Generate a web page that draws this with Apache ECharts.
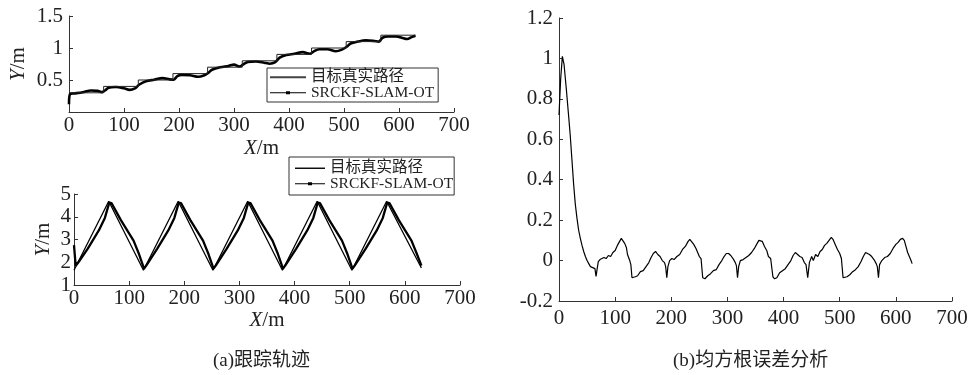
<!DOCTYPE html>
<html><head><meta charset="utf-8">
<script src="https://cdn.jsdelivr.net/npm/echarts@6/dist/echarts.min.js"></script>
<style>html,body{margin:0;padding:0;background:#fff}#c{width:975px;height:375px}</style>
</head><body><div id="c"></div>
<script>
// ---- data ----
const legendNames = ['目标真实路径', 'SRCKF-SLAM-OT'];
const captions = ['(a)跟踪轨迹', '(b)均方根误差分析'];
const xTicks = [0, 700, 100];
const topYTicks = [0, 1.5, 0.5];
const botYTicks = [1, 5, 1];
const rmseYTicks = [-0.2, 1.2, 0.2];

const topTrueX = [0,63,63,126,126,189,189,252,252,315,315,378,378,441,441,504,504,567,567,630];
const topTrueY = [0.3,0.3,0.4,0.4,0.5,0.5,0.6,0.6,0.7,0.7,0.8,0.8,0.9,0.9,1.0,1.0,1.1,1.1,1.2,1.2];

const topEstX = [0,2,10,25,40,52,60,66,72,85,100,110,120,128,140,155,170,183,190,197,205,220,235,245,253,260,275,290,300,310,318,325,340,355,365,375,383,395,410,425,438,446,455,470,485,495,505,512,525,540,555,563,570,580,595,605,615,623,630];
const topEstY = [0.12,0.28,0.29,0.31,0.335,0.33,0.31,0.34,0.38,0.39,0.37,0.345,0.37,0.43,0.48,0.505,0.53,0.51,0.505,0.56,0.58,0.575,0.55,0.57,0.61,0.66,0.70,0.72,0.74,0.71,0.75,0.78,0.79,0.77,0.755,0.78,0.85,0.89,0.91,0.935,0.91,0.95,0.98,0.98,0.95,0.97,1.02,1.07,1.10,1.12,1.11,1.10,1.16,1.18,1.18,1.16,1.14,1.17,1.19];

const botTrueX = [0,63,126,189,252,315,378,441,504,567,630];
const botTrueY = [1.65,4.68,1.65,4.68,1.65,4.68,1.65,4.68,1.65,4.68,1.75];

const botEstX = [0,3,8,25,45,56,64,68,85,108,118,127,131,151,171,182,190,194,211,234,244,253,257,277,297,308,316,320,337,360,370,379,383,403,423,434,442,446,463,486,496,505,509,529,549,560,568,572,589,612,622,630];
const botEstY = [2.75,1.85,2.0,2.6,3.4,3.95,4.62,4.6,3.85,2.95,2.35,1.72,1.85,2.6,3.4,3.95,4.62,4.6,3.85,2.95,2.35,1.72,1.85,2.6,3.4,3.95,4.62,4.6,3.85,2.95,2.35,1.72,1.85,2.6,3.4,3.95,4.62,4.6,3.85,2.95,2.35,1.72,1.85,2.6,3.4,3.95,4.62,4.6,3.85,2.95,2.35,1.85];

const rmseX = [0,3,6,9,13,17,20,23,26,29,32,35,38,41,44,47,50,53,56,58,60,62,64,66,68,70,73,76,80,84,88,92,96,100,104,108,111,114,117,120,122,124,126,128,130,132,136,140,145,150,155,160,164,168,172,176,180,184,188,190,192,194,197,201,205,210,215,220,225,230,233,236,240,244,247,250,253,256,260,265,270,275,280,285,290,294,298,302,306,310,314,316,318,320,323,328,333,338,343,348,352,356,359,362,366,370,373,377,381,384,388,393,398,403,408,413,417,421,425,429,433,437,440,443,446,450,453,457,461,465,469,473,477,481,485,488,492,496,500,503,506,509,513,518,523,528,533,538,542,546,549,553,557,561,565,567,569,571,575,580,585,590,595,600,604,608,612,615,618,621,624,627,629];
const rmseY = [0.72,0.9,1.01,0.97,0.85,0.72,0.62,0.5,0.38,0.28,0.21,0.15,0.11,0.075,0.045,0.02,0.0,-0.015,-0.03,-0.025,-0.035,-0.03,-0.04,-0.078,-0.04,-0.005,0.005,0.0,0.015,0.01,0.025,0.02,0.04,0.05,0.075,0.095,0.11,0.105,0.085,0.065,0.03,0.03,0.0,-0.02,-0.085,-0.09,-0.08,-0.075,-0.055,-0.05,-0.03,-0.01,0.015,0.035,0.045,0.03,0.02,0.0,-0.01,-0.03,-0.085,-0.03,0.0,0.01,0.005,0.02,0.03,0.055,0.07,0.095,0.105,0.1,0.08,0.06,0.04,0.02,0.01,-0.085,-0.09,-0.075,-0.065,-0.05,-0.045,-0.02,0.0,0.02,0.035,0.035,0.025,0.01,-0.01,-0.025,-0.085,-0.03,0.0,0.005,0.015,0.025,0.04,0.06,0.08,0.1,0.105,0.095,0.07,0.05,0.02,0.01,-0.08,-0.09,-0.085,-0.06,-0.05,-0.04,-0.02,0.0,0.025,0.04,0.03,0.02,0.015,-0.01,-0.02,-0.085,-0.01,0.02,0.0,0.03,0.02,0.045,0.055,0.075,0.085,0.1,0.115,0.105,0.08,0.055,0.035,0.01,-0.085,-0.09,-0.08,-0.07,-0.055,-0.045,-0.03,-0.005,0.02,0.04,0.04,0.03,0.02,0.005,-0.015,-0.03,-0.085,-0.02,0.0,0.015,0.02,0.035,0.06,0.08,0.09,0.105,0.11,0.1,0.07,0.04,0.02,0.0,-0.015];

// ---- helpers ----
const pairs = (xs, ys) => xs.map((x, i) => [x, ys[i]]);
const SERIF = "'Liberation Serif','Noto Sans CJK SC',serif";
const TXT = '#222';
const AX = '#333';

function xAxis(gridIndex, name, nameGap, margin) {
  return {
    type: 'value', gridIndex, min: xTicks[0], max: xTicks[1], interval: xTicks[2],
    name: name, nameLocation: 'middle', nameGap: nameGap,
    nameTextStyle: { fontFamily: SERIF, fontSize: 21, color: TXT,
      rich: { i: { fontFamily: SERIF, fontSize: 21, fontStyle: 'italic', color: TXT } } },
    axisLine: { show: true, onZero: false, lineStyle: { color: AX, width: 1 } },
    axisTick: { show: true, inside: true, length: 4, lineStyle: { color: AX } },
    axisLabel: { fontFamily: SERIF, fontSize: 21, color: TXT, margin: margin },
    splitLine: { show: false }
  };
}
function yAxis(gridIndex, t, name, nameGap, margin, showMin) {
  return {
    type: 'value', gridIndex, min: t[0], max: t[1], interval: t[2],
    name: name, nameLocation: 'middle', nameGap: nameGap, nameRotate: 90,
    nameTextStyle: { fontFamily: SERIF, fontSize: 21, color: TXT,
      rich: { i: { fontFamily: SERIF, fontSize: 21, fontStyle: 'italic', color: TXT } } },
    axisLine: { show: true, onZero: false, lineStyle: { color: AX, width: 1 } },
    axisTick: { show: true, inside: true, length: 4, lineStyle: { color: AX } },
    axisLabel: { fontFamily: SERIF, fontSize: 21, color: TXT, margin: margin, showMinLabel: showMin,
      formatter: v => String(Math.round(v * 10) / 10) },
    splitLine: { show: false }
  };
}

const lineIcon = 'path://M0,0h36v2h-36z';
const dotIcon = 'path://M0,1h36v1h-36z M16,0h4v3h-4z';
const thinIcon = 'path://M0,0h30v1.4h-30z';
const dotIcon2 = 'path://M0,1h30v1h-30z M13,0h4v3h-4z';

const option = {
  animation: false,
  backgroundColor: '#fff',
  grid: [
    { left: 69, top: 16, width: 385, height: 96 },
    { left: 74, top: 194, width: 386, height: 91 },
    { left: 559, top: 18, width: 393, height: 283 }
  ],
  xAxis: [
    xAxis(0, '{i|X}/m', 26, 3),
    xAxis(1, '{i|X}/m', 20, 3),
    xAxis(2, '', 0, 7)
  ],
  yAxis: [
    yAxis(0, topYTicks, '{i|Y}/m', 40, 6, false),
    yAxis(1, botYTicks, '{i|Y}/m', 20, 3, true),
    yAxis(2, rmseYTicks, '', 0, 6, true)
  ],
  legend: [
    { orient: 'vertical', left: 267, top: 68, itemGap: 0, padding: [1.5, 4, 1.5, 3],
      itemWidth: 36, itemHeight: 3, borderColor: '#333', borderWidth: 1,
      textStyle: { fontFamily: SERIF, fontSize: 15.5, color: TXT },
      selectedMode: false,
      data: [ { name: legendNames[0], icon: lineIcon, itemStyle: { color: '#444' } },
              { name: legendNames[1], icon: dotIcon, itemStyle: { color: '#000' } } ] },
    { orient: 'vertical', left: 289, top: 157, itemGap: 0, padding: [3.5, 1, 3.5, 6],
      itemWidth: 30, itemHeight: 3, borderColor: '#333', borderWidth: 1,
      textStyle: { fontFamily: SERIF, fontSize: 15.5, color: TXT },
      selectedMode: false,
      data: [ { name: legendNames[0], icon: thinIcon, itemStyle: { color: '#000' } },
              { name: legendNames[1], icon: dotIcon2, itemStyle: { color: '#000' } } ] }
  ],
  title: [
    { text: captions[0], left: 213, top: 352, padding: 0,
      textStyle: { fontFamily: SERIF, fontSize: 19, fontWeight: 'normal', color: TXT } },
    { text: captions[1], left: 673, top: 352, padding: 0,
      textStyle: { fontFamily: SERIF, fontSize: 19, fontWeight: 'normal', color: TXT } }
  ],
  series: [
    { name: legendNames[0], type: 'line', xAxisIndex: 0, yAxisIndex: 0, symbol: 'none',
      data: pairs(topTrueX, topTrueY), lineStyle: { color: '#222', width: 1 }, itemStyle: { color: '#222' }, z: 3 },
    { name: legendNames[1], type: 'line', xAxisIndex: 0, yAxisIndex: 0, symbol: 'none', smooth: 0.3,
      data: pairs(topEstX, topEstY), lineStyle: { color: '#000', width: 2.6 }, itemStyle: { color: '#000' }, z: 2 },
    { name: legendNames[0], type: 'line', xAxisIndex: 1, yAxisIndex: 1, symbol: 'none',
      data: pairs(botTrueX, botTrueY), lineStyle: { color: '#000', width: 1.3 }, itemStyle: { color: '#000' } },
    { name: legendNames[1], type: 'line', xAxisIndex: 1, yAxisIndex: 1, symbol: 'none',
      data: pairs(botEstX, botEstY), lineStyle: { color: '#000', width: 2.3 }, itemStyle: { color: '#000' } },
    { name: 'RMSE', type: 'line', xAxisIndex: 2, yAxisIndex: 2, symbol: 'none',
      data: pairs(rmseX, rmseY), lineStyle: { color: '#000', width: 1.2 }, itemStyle: { color: '#000' } }
  ]
};
echarts.init(document.getElementById('c'), null, { renderer: 'canvas' }).setOption(option);
</script></body></html>
